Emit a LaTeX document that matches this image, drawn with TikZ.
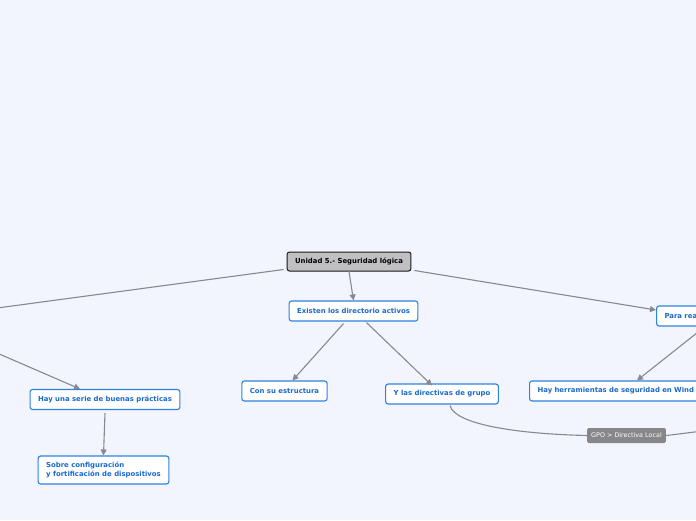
\documentclass[tikz,border=0pt]{standalone}
\usepackage{fontspec}
\setmainfont{DejaVu Sans}
\usepackage{xcolor}
\usetikzlibrary{positioning,arrows.meta,calc}
\definecolor{paper}{RGB}{242,245,254}
\definecolor{ink}{RGB}{25,25,25}
\definecolor{edge}{RGB}{135,136,146}
\definecolor{topicblue}{RGB}{45,130,225}
\definecolor{topictext}{RGB}{25,105,205}
\definecolor{rootgray}{RGB}{192,192,194}
\definecolor{taggray}{RGB}{135,135,138}
\tikzset{
  topic/.style={draw=topicblue, line width=1.1pt, rounded corners=2.5pt, fill=white,
                text=topictext, inner xsep=8pt, minimum height=20pt,
                font=\fontsize{6.9}{8.6}\selectfont\bfseries},
  central/.style={draw=ink, line width=1pt, rounded corners=2.5pt, fill=rootgray,
                  text=black, inner xsep=8pt, minimum height=19pt,
                  font=\fontsize{6.9}{8.6}\selectfont\bfseries},
  tag/.style={fill=taggray, rounded corners=1.5pt, text=white, inner xsep=4pt,
              minimum height=15pt, font=\fontsize{6.4}{8}\selectfont},
  flow/.style={-{Triangle[length=6pt,width=6pt]}, draw=edge, line width=1.1pt},
  link/.style={draw=edge, line width=1.1pt},
}

\begin{document}
\begin{tikzpicture}[x=1pt, y=-1pt]
    \useasboundingbox (0,0) rectangle (696,520);
    \fill[paper] (0,0) rectangle (696,520);
    \clip (0,0) rectangle (696,520);

    \node[central] (root)  at (349,261.5) {Unidad 5.- Seguridad lógica};
    \node[topic]   (dir)   at (353.5,311) {Existen los directorio activos};
    \node[topic]   (estr)  at (284.5,391) {Con su estructura};
    \node[topic]   (gpo)   at (442,394)   {Y las directivas de grupo};
    \node[topic, anchor=west, text width=80pt, align=left] (para) at (656,316) {Para rea};
    \node[topic, anchor=west, text width=190pt, align=left] (herr) at (529,391) {Hay herramientas de seguridad en Wind};
    \node[topic]   (buen)  at (105,399.5) {Hay una serie de buenas prácticas};
    \node[topic, align=left, minimum height=28pt] (fort) at (103.5,470)
        {Sobre configuración\\y fortificación de dispositivos};
    \node[tag]     (loc)   at (626.5,435.5) {GPO > Directiva Local};

    % ends of the branches that run off the page
    \coordinate (lefttop) at (-40,313);
    \coordinate (leftbot) at (-40,337);
    \coordinate (farright) at (730,428);

    \draw[flow] (root.south) -- (dir.north);
    \draw[link] ($(root.west)+(-3,8)$) -- (lefttop);
    \draw[flow] ($(root.east)+(3,9)$) -- ($(para.west)+(0,-6)$);
    \draw[flow] ($(dir.south)+(-10,2)$) -- ($(estr.north)+(8,0)$);
    \draw[flow] ($(dir.south)+(13,1)$) -- ($(gpo.north)+(-10,2)$);
    \draw[flow] (leftbot) -- ($(buen.north)+(-25,0)$);
    \draw[flow] ($(buen.south)+(0,3)$) -- (fort.north);
    \draw[flow] ($(para.south west)+(49,0)$) -- ($(herr.north west)+(108,0)$);
    \draw[link] ($(gpo.south)+(8,1)$) .. controls (455,425) and (520,434) .. (loc.west);
    \draw[link] (loc.east) .. controls (680,434) and (700,431) .. (farright);
\end{tikzpicture}
\end{document}
